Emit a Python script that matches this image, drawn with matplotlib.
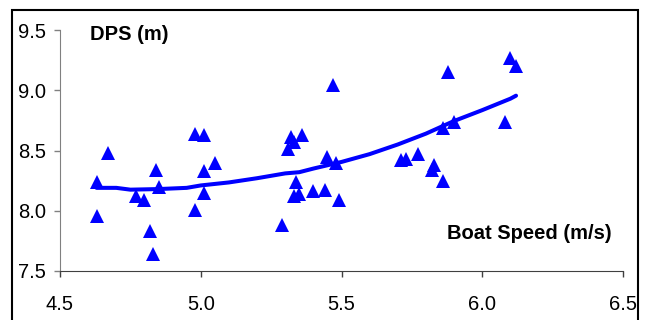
import matplotlib
matplotlib.use("Agg")
import matplotlib.pyplot as plt
from matplotlib.patches import Rectangle

plt.rcParams['font.family'] = ['Liberation Sans', 'DejaVu Sans']

# boat speed (m/s) and distance per stroke (m) for each measured piece
speed = [4.63, 4.63, 4.67, 4.77, 4.80, 4.82, 4.83, 4.84, 4.85,
         4.98, 5.01, 4.98, 5.01, 5.01, 5.05,
         5.29, 5.31, 5.32, 5.33, 5.36, 5.34, 5.33, 5.35, 5.40, 5.44,
         5.45, 5.47, 5.48, 5.49,
         5.71, 5.73, 5.77, 5.82, 5.83, 5.86, 5.86, 5.90, 5.88,
         6.08, 6.10, 6.12]
dps = [8.24, 7.96, 8.48, 8.12, 8.09, 7.83, 7.64, 8.34, 8.20,
       8.64, 8.63, 8.01, 8.33, 8.15, 8.40,
       7.88, 8.51, 8.61, 8.57, 8.63, 8.24, 8.12, 8.14, 8.16, 8.17,
       8.45, 9.04, 8.40, 8.09,
       8.42, 8.43, 8.47, 8.34, 8.38, 8.25, 8.69, 8.74, 9.15,
       8.74, 9.27, 9.20]

# moving-average trend
trend_x = [4.63, 4.70, 4.75, 4.85, 4.95, 5.00, 5.10, 5.20, 5.30, 5.35,
           5.40, 5.50, 5.60, 5.70, 5.80, 5.90, 6.00, 6.10, 6.12]
trend_y = [8.19, 8.19, 8.175, 8.18, 8.19, 8.21, 8.235, 8.27, 8.31, 8.32,
           8.35, 8.405, 8.47, 8.55, 8.64, 8.745, 8.835, 8.93, 8.955]

fig = plt.figure(figsize=(6.52, 3.20), dpi=100)
ax = fig.add_axes([60 / 652, 1 - 271 / 320, 563 / 652, 241 / 320])

ax.plot(trend_x, trend_y, color='#0000FF', lw=2.9, solid_capstyle='round', zorder=2)
ax.plot(speed, dps, '^', color='#0000FF', ms=10, mew=0, zorder=3)

ax.set_xlim(4.5, 6.5)
ax.set_ylim(7.5, 9.5)
ax.set_xticks([4.5, 5.0, 5.5, 6.0, 6.5])
ax.set_yticks([7.5, 8.0, 8.5, 9.0, 9.5])
ax.xaxis.set_major_formatter(matplotlib.ticker.FormatStrFormatter('%.1f'))
ax.yaxis.set_major_formatter(matplotlib.ticker.FormatStrFormatter('%.1f'))
ax.tick_params(axis='both', direction='out', labelsize=14.5, length=4, width=1)
ax.tick_params(axis='y', pad=6, color='#808080')
ax.tick_params(axis='x', pad=13, color='#404040')

for s in ['top', 'right']:
    ax.spines[s].set_visible(False)
ax.spines['left'].set_color('#808080')
ax.spines['bottom'].set_color('#404040')

ax.text(0.053, 0.981, 'DPS (m)', transform=ax.transAxes, fontsize=14.5,
        fontweight='bold', ha='left', va='center')
ax.text(0.98, 0.154, 'Boat Speed (m/s)', transform=ax.transAxes, fontsize=14.5,
        fontweight='bold', ha='right', va='center')

# outer frame of the chart
fig.patches.append(Rectangle((12 / 652, -0.05), 626 / 652, 1 - 10 / 320 + 0.05,
                             transform=fig.transFigure, fill=False,
                             edgecolor='black', lw=1.5))

fig.savefig('out.png', dpi=100)
